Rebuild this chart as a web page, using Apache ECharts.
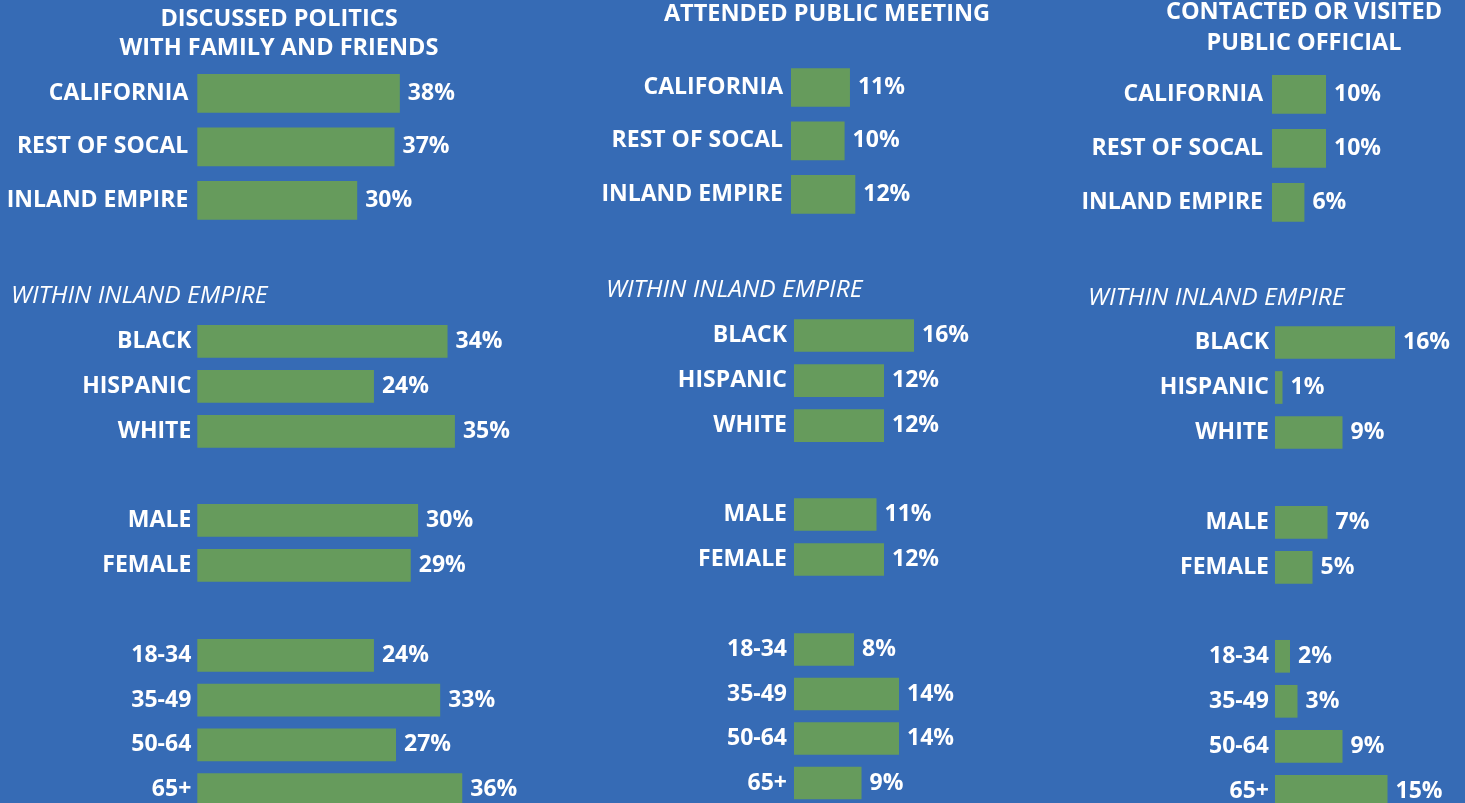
<!DOCTYPE html>
<html>
<head>
<meta charset="utf-8">
<script src="https://cdn.jsdelivr.net/npm/echarts@6/dist/echarts.min.js"></script>
<style>
  html, body { margin: 0; padding: 0; background: #366bb5; }
  #chart { width: 1465px; height: 803px; }
</style>
</head>
<body>
<div id="chart"></div>
<script>
// ---- Data ----
const topCategories = ['CALIFORNIA', 'REST OF SOCAL', 'INLAND EMPIRE'];
const raceCategories = ['BLACK', 'HISPANIC', 'WHITE'];
const genderCategories = ['MALE', 'FEMALE'];
const ageCategories = ['18-34', '35-49', '50-64', '65+'];

const panelTitles = ['DISCUSSED POLITICS\nWITH FAMILY AND FRIENDS', 'ATTENDED PUBLIC MEETING', 'CONTACTED OR VISITED\nPUBLIC OFFICIAL'];
const subTitle = 'WITHIN INLAND EMPIRE';

const discussedTop = [38, 37, 30];
const discussedRace = [34, 24, 35];
const discussedGender = [30, 29];
const discussedAge = [24, 33, 27, 36];

const attendedTop = [11, 10, 12];
const attendedRace = [16, 12, 12];
const attendedGender = [11, 12];
const attendedAge = [8, 14, 14, 9];

const contactedTop = [10, 10, 6];
const contactedRace = [16, 1, 9];
const contactedGender = [7, 5];
const contactedAge = [2, 3, 9, 15];

// ---- Layout / style (not data) ----
const BG = '#366bb5';
const GREEN = '#669b5c';
const FONT = '"Open Sans", Roboto, sans-serif';
const AXIS_MAX = 40;

// one entry per group: left px, px per %, first bar center, pitch, bar height, label margin
const layout = [
  // panel 1
  { left: 197.3, scale: 5.33, c0: 93.3, pitch: 53.5, bw: 38.7, margin: 9 },
  { left: 197.3, scale: 7.36, c0: 341.3, pitch: 45.0, bw: 32.7, margin: 6 },
  { left: 197.3, scale: 7.36, c0: 520.3, pitch: 45.0, bw: 32.7, margin: 6 },
  { left: 197.3, scale: 7.36, c0: 655.3, pitch: 44.8, bw: 32.7, margin: 6 },
  // panel 2
  { left: 791, scale: 5.36, c0: 87.5, pitch: 53.4, bw: 38.7, margin: 8 },
  { left: 794, scale: 7.5, c0: 335.5, pitch: 45.1, bw: 32.7, margin: 7 },
  { left: 794, scale: 7.5, c0: 514.5, pitch: 45.0, bw: 32.7, margin: 7 },
  { left: 794, scale: 7.5, c0: 649.5, pitch: 44.5, bw: 32.7, margin: 7 },
  // panel 3
  { left: 1272, scale: 5.4, c0: 94.3, pitch: 54.0, bw: 38.7, margin: 9 },
  { left: 1275, scale: 7.5, c0: 342.5, pitch: 45.0, bw: 32.7, margin: 6 },
  { left: 1275, scale: 7.5, c0: 522.3, pitch: 45.0, bw: 32.7, margin: 6 },
  { left: 1275, scale: 7.5, c0: 656.3, pitch: 45.0, bw: 32.7, margin: 6 }
];

const groups = [
  [topCategories, discussedTop], [raceCategories, discussedRace], [genderCategories, discussedGender], [ageCategories, discussedAge],
  [topCategories, attendedTop], [raceCategories, attendedRace], [genderCategories, attendedGender], [ageCategories, attendedAge],
  [topCategories, contactedTop], [raceCategories, contactedRace], [genderCategories, contactedGender], [ageCategories, contactedAge]
];

const grids = [], xAxes = [], yAxes = [], series = [];
groups.forEach(([cats, vals], i) => {
  const L = layout[i];
  const n = cats.length;
  grids.push({
    left: L.left,
    top: L.c0 - L.pitch / 2,
    width: L.scale * AXIS_MAX,
    height: L.pitch * n,
    containLabel: false,
    outerBoundsMode: 'none'
  });
  xAxes.push({
    gridIndex: i, type: 'value', min: 0, max: AXIS_MAX, show: false
  });
  yAxes.push({
    gridIndex: i, type: 'category', inverse: true, data: cats,
    axisLine: { show: false }, axisTick: { show: false }, splitLine: { show: false },
    axisLabel: {
      color: '#ffffff', fontFamily: FONT, fontWeight: 'bold', fontSize: 23,
      margin: L.margin
    }
  });
  series.push({
    type: 'bar', xAxisIndex: i, yAxisIndex: i, data: vals,
    barWidth: L.bw, silent: true, animation: false,
    itemStyle: { color: GREEN },
    label: {
      show: true, position: 'right', distance: 8,
      formatter: '{c}%',
      color: '#ffffff', fontFamily: FONT, fontWeight: 'bold', fontSize: 23
    }
  });
});

const titleStyle = { fill: '#ffffff', font: 'bold 23.5px ' + FONT, textAlign: 'center', textVerticalAlign: 'middle' };
const subStyle = { fill: '#ffffff', font: 'italic 24.5px ' + FONT, textAlign: 'left', textVerticalAlign: 'middle' };
const graphics = [
  { type: 'text', x: 279, y: 34.1, style: Object.assign({ text: panelTitles[0], lineHeight: 29 }, titleStyle) },
  { type: 'text', x: 827, y: 14, style: Object.assign({ text: panelTitles[1], lineHeight: 29 }, titleStyle) },
  { type: 'text', x: 1304, y: 27.8, style: Object.assign({ text: panelTitles[2], lineHeight: 31 }, titleStyle) },
  { type: 'text', x: 11, y: 296.2, style: Object.assign({ text: subTitle }, subStyle) },
  { type: 'text', x: 606, y: 289.7, style: Object.assign({ text: subTitle }, subStyle) },
  { type: 'text', x: 1088, y: 298.3, style: Object.assign({ text: subTitle }, subStyle) }
];

const chart = echarts.init(document.getElementById('chart'), null, { renderer: 'canvas' });
chart.setOption({
  backgroundColor: BG,
  animation: false,
  grid: grids,
  xAxis: xAxes,
  yAxis: yAxes,
  series: series,
  graphic: graphics
});
</script>
</body>
</html>
